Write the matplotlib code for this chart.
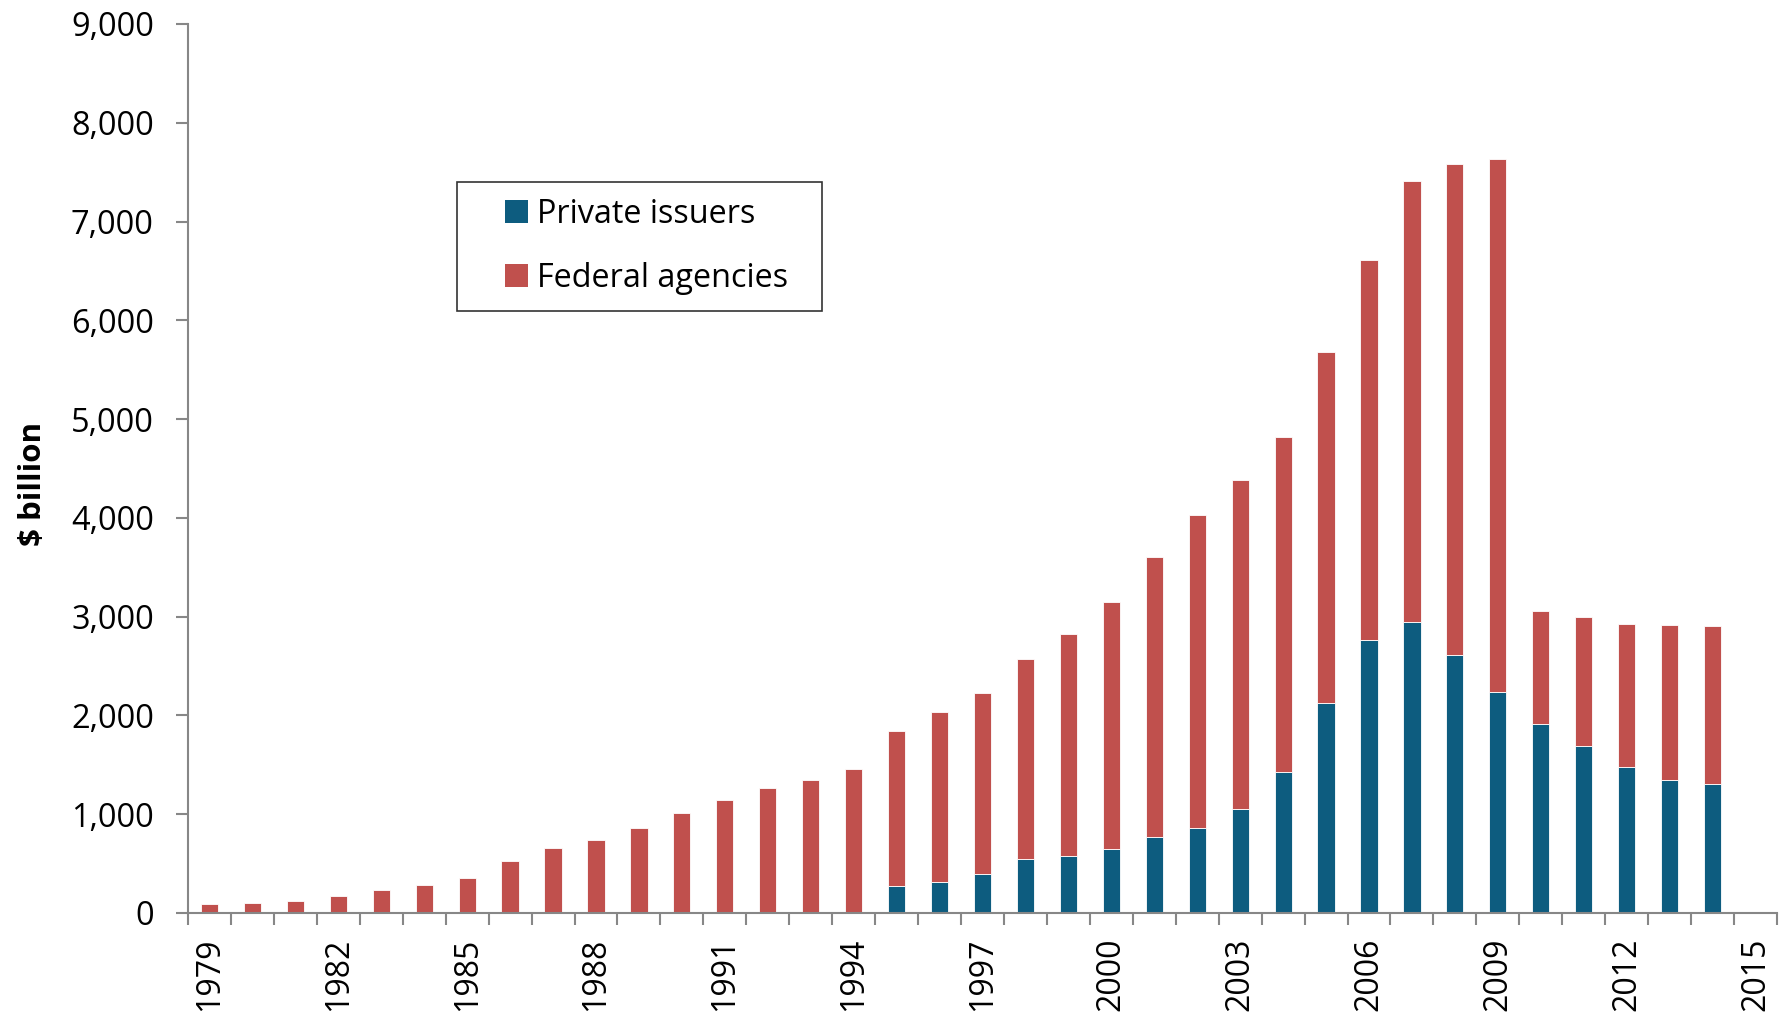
import numpy as np
import matplotlib.pyplot as plt
from matplotlib.patches import Rectangle
from matplotlib.legend_handler import HandlerPatch
from matplotlib.ticker import FuncFormatter

plt.rcParams['font.family'] = ['Open Sans', 'DejaVu Sans']

# years shown on the axis (2015 is an empty slot at the end)
years = list(range(1979, 2016))

# total outstanding and the private issuers' part, $ billion
total = [88, 104, 122, 172, 233, 280, 358, 524, 662, 737,
         861, 1010, 1148, 1263, 1344, 1462, 1844, 2033, 2226, 2573,
         2823, 3148, 3600, 4025, 4384, 4816, 5681, 6609, 7413, 7586,
         7629, 3053, 2999, 2925, 2918, 2901]
private = [0, 0, 0, 0, 0, 0, 0, 0, 0, 0,
           0, 0, 0, 0, 0, 0, 270, 317, 395, 550,
           581, 651, 767, 864, 1051, 1432, 2121, 2763, 2941, 2607,
           2242, 1912, 1695, 1482, 1348, 1310]
federal = [t - p for t, p in zip(total, private)]

year_labels = [str(y) for y in years[::3]]

blue = '#0D5C7F'
red = '#C0504D'
grey = '#878787'


def square_handle(legend, orig_handle, xdescent, ydescent, width, height, fontsize):
    # square marker pushed to the right end of the handle slot
    return Rectangle((-xdescent + width - height, -ydescent), height, height)


fig = plt.figure(figsize=(17.87, 10.24), dpi=100)
ax = fig.add_axes([0.1052, 0.1084, 0.8892, 0.8682])

x = np.arange(len(total))
b1 = ax.bar(x, private, width=0.4, color=blue, edgecolor='white', linewidth=0.6)
b2 = ax.bar(x, federal, width=0.4, bottom=private, color=red, edgecolor='white',
            linewidth=0.6)

ax.set_xlim(-0.5, len(years) - 0.5)
ax.set_ylim(0, 9000)

# y axis
ax.set_yticks(range(0, 9001, 1000))
ax.yaxis.set_major_formatter(FuncFormatter(lambda v, p: '{:,.0f}'.format(v)))
ax.tick_params(axis='y', length=8.6, width=1.5, color=grey, labelsize=23.4, pad=16)
ax.set_ylabel('$ billion', fontsize=22.5, fontweight='bold')
ax.yaxis.set_label_coords(-0.0884, 0.483)

# x axis: tick marks between years, labels every third year
ax.set_xticks(np.arange(-0.5, len(years), 1.0))
ax.set_xticklabels([])
ax.tick_params(axis='x', which='major', length=8.6, width=1.5, color=grey)
ax.set_xticks(np.arange(0, len(years), 3), minor=True)
ax.set_xticklabels(year_labels, minor=True, rotation=90, fontsize=23)
ax.tick_params(axis='x', which='minor', length=0, pad=18)

for s in ['top', 'right']:
    ax.spines[s].set_visible(False)
for s in ['left', 'bottom']:
    ax.spines[s].set_color(grey)
    ax.spines[s].set_linewidth(1.5)

# legend box stretched to the reference width, square markers
handles = [b1.patches[0], b2.patches[0]]
labels = ['Private issuers', 'Federal agencies']
leg = ax.legend(handles, labels, loc='upper left',
                bbox_to_anchor=(0.169, 0.8226, 0.2303, 0.0),
                mode='expand', borderaxespad=0, fontsize=23.3, frameon=True,
                fancybox=False, handlelength=1.7, handleheight=0.72,
                handletextpad=0.28, labelspacing=0.95, borderpad=0.5,
                handler_map={Rectangle: HandlerPatch(patch_func=square_handle)})
leg.get_frame().set_edgecolor('black')
leg.get_frame().set_linewidth(1.2)
for h in leg.legend_handles:
    h.set_edgecolor('none')

plt.savefig('out.png', dpi=100)
